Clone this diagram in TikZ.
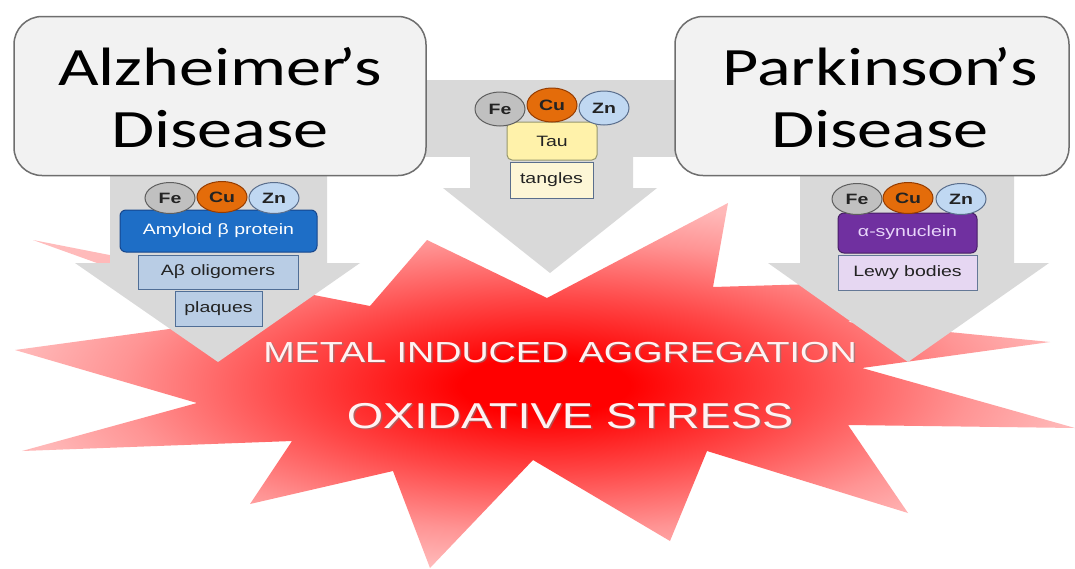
\documentclass[tikz,border=0pt]{standalone}
\usepackage{fontspec}
\setmainfont{Liberation Sans}
\newfontfamily\calibfont{Carlito}
\usepackage{graphicx}
\usetikzlibrary{shapes.geometric}
\newcommand{\hs}[1]{\scalebox{1.3}[1]{#1}}
\newcommand{\fsz}[1]{\fontsize{#1}{#1}\selectfont}
\newcommand{\apos}{\kern-0.11em’\kern-0.02em}
\definecolor{arrowgray}{RGB}{217,217,217}
\definecolor{boxfill}{RGB}{242,242,242}
\definecolor{boxborder}{RGB}{110,110,110}
\definecolor{amyfill}{RGB}{30,110,198}
\definecolor{amyborder}{RGB}{22,70,140}
\definecolor{abfill}{RGB}{185,205,229}
\definecolor{abborder}{RGB}{80,110,150}
\definecolor{taufill}{RGB}{255,242,170}
\definecolor{tauborder}{RGB}{150,150,110}
\definecolor{tanfill}{RGB}{253,246,214}
\definecolor{tanborder}{RGB}{90,110,140}
\definecolor{synfill}{RGB}{112,48,160}
\definecolor{synborder}{RGB}{70,30,100}
\definecolor{syntext}{RGB}{232,214,250}
\definecolor{lewyfill}{RGB}{230,215,242}
\definecolor{lewyborder}{RGB}{100,120,150}
\definecolor{fefill}{RGB}{192,192,192}
\definecolor{feborder}{RGB}{95,95,95}
\definecolor{cufill}{RGB}{228,108,10}
\definecolor{cuborder}{RGB}{150,60,0}
\definecolor{znfill}{RGB}{192,216,242}
\definecolor{znborder}{RGB}{90,110,140}
\definecolor{labtext}{RGB}{35,35,35}
\pgfdeclareradialshading{burst}{\pgfpoint{0bp}{0bp}}{color(0bp)=(red); color(4bp)=(red); color(12bp)=(red!72!white); color(20bp)=(red!42!white); color(25bp)=(red!28!white); color(50bp)=(red!20!white)}
\begin{document}
\begin{tikzpicture}[x=1pt,y=-1pt,
  disbox/.style={rectangle, rounded corners=28pt, draw=boxborder, line width=1.5pt, fill=boxfill},
  distext/.style={anchor=base, inner sep=0pt, font=\calibfont\fsz{54}, text=black},
  metal/.style={ellipse, line width=1pt, minimum width=50pt, minimum height=31pt, inner sep=0pt, font=\fsz{15}\bfseries, text=labtext},
  fe/.style={metal, fill=fefill, draw=feborder},
  cu/.style={metal, fill=cufill, draw=cuborder},
  zn/.style={metal, fill=znfill, draw=znborder},
  pbox/.style={rectangle, line width=1pt, inner sep=0pt, font=\fsz{15}, text=labtext},
  bigtxt/.style={anchor=base, inner sep=0pt, font=\fsz{#1}},
  arrowshape/.style={fill=arrowgray}
]
\useasboundingbox (0,0) rectangle (1075,568);
\fill[white] (0,0) rectangle (1075,568);
% starburst
\shade[shading=burst] (728,203) -- (713,287) -- (950,280) -- (848,322) -- (1050,342) -- (862,368)
  -- (1075,428) -- (848,425) -- (908,513) -- (707,451) -- (670,541) -- (533,460) -- (430,568)
  -- (393,471) -- (250,504) -- (292,441) -- (22,451) -- (197,403) -- (15,350) -- (250,318)
  -- (33,240) -- (370,306) -- (427,240) -- (547,298) -- cycle;
% gray block arrows
\fill[arrowshape] (110,160) -- (327,160) -- (327,263) -- (360,263) -- (218,362) -- (75,263) -- (110,263) -- cycle;
\fill[arrowshape] (420,80) rectangle (680,157);
\fill[arrowshape] (470,80) -- (633,80) -- (633,188) -- (657,188) -- (550,273) -- (443,188) -- (470,188) -- cycle;
\fill[arrowshape] (800,160) -- (1014,160) -- (1014,263) -- (1049,263) -- (908,362) -- (768,263) -- (800,263) -- cycle;
% disease boxes
\node[disbox, minimum width=412pt, minimum height=159pt] (alz) at (220,96) {};
\node[distext] (alz1) at (220,85) {\hs{Alzheimer\apos s}};
\node[distext] (alz2) at (220,147) {\hs{Disease}};
\node[disbox, minimum width=394pt, minimum height=159pt] (park) at (872,96) {};
\node[distext] (park1) at (880,85) {\hs{Parkinson\apos s}};
\node[distext] (park2) at (880,147) {\hs{Disease}};
% Alzheimer group
\node[pbox, rounded corners=6pt, fill=amyfill, draw=amyborder, text=white, minimum width=197pt, minimum height=42pt] (amy) at (218.5,231) {\hs{Amyloid β protein}};
\node[pbox, fill=abfill, draw=abborder, minimum width=160pt, minimum height=34pt] (abo) at (218,272) {\hs{Aβ oligomers}};
\node[pbox, fill=abfill, draw=abborder, minimum width=87pt, minimum height=35pt] (plq) at (218.5,308.5) {\hs{plaques}};
\node[fe] (fe1) at (170,198) {\hs{Fe}};
\node[zn] (zn1) at (274,198) {\hs{Zn}};
\node[cu] (cu1) at (222,197) {\hs{Cu}};
% Tau group
\node[pbox, rounded corners=5pt, fill=taufill, draw=tauborder, minimum width=90pt, minimum height=38pt] (tau) at (552,141) {\hs{Tau}};
\node[pbox, fill=tanfill, draw=tanborder, minimum width=83pt, minimum height=36pt] (tan) at (551.5,180) {\hs{tangles}};
\node[fe, minimum height=34pt] (fe2) at (500,109) {\hs{Fe}};
\node[zn, minimum height=34pt] (zn2) at (604,108) {\hs{Zn}};
\node[cu, minimum height=34pt] (cu2) at (552,105) {\hs{Cu}};
% Parkinson group
\node[pbox, rounded corners=6pt, fill=synfill, draw=synborder, text=syntext, minimum width=139pt, minimum height=40pt] (syn) at (907.5,233) {\hs{α-synuclein}};
\node[pbox, fill=lewyfill, draw=lewyborder, minimum width=139pt, minimum height=35pt] (lewy) at (907.5,272.5) {\hs{Lewy bodies}};
\node[fe] (fe3) at (857,199) {\hs{Fe}};
\node[zn] (zn3) at (961,199) {\hs{Zn}};
\node[cu] (cu3) at (908,198) {\hs{Cu}};
% burst texts
\node[bigtxt=29, text=black!50, opacity=0.6] (metalsh) at (561.5,363.5) {\hs{METAL INDUCED AGGREGATION}};
\node[bigtxt=29, text=white!95!red] (metal) at (560,362) {\hs{METAL INDUCED AGGREGATION}};
\node[bigtxt=36, text=black!50, opacity=0.6] (oxsh) at (571.5,429.5) {\hs{OXIDATIVE STRESS}};
\node[bigtxt=36, text=white!95!red] (ox) at (570,428) {\hs{OXIDATIVE STRESS}};
\end{tikzpicture}
\end{document}
